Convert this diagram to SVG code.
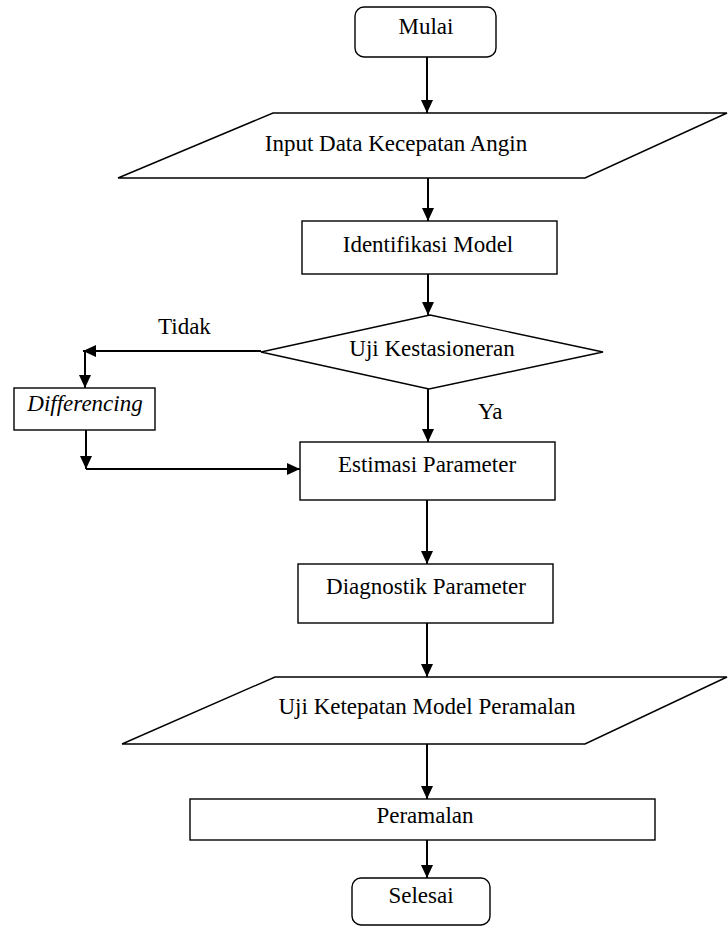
<svg xmlns="http://www.w3.org/2000/svg" width="728" height="927" viewBox="0 0 728 927">
<defs>
<marker id="ah" markerWidth="13" markerHeight="12" refX="13" refY="6" orient="auto" markerUnits="userSpaceOnUse">
<path d="M0,0 L13,6 L0,12 z" fill="#000"/>
</marker>
<style>
.shape{fill:#fff;stroke:#000;stroke-width:1.4}
.conn{fill:none;stroke:#000;stroke-width:2}
.lbl{font-family:"Liberation Serif","Times New Roman",serif;font-size:23px;fill:#000;text-anchor:middle}
.lab{font-family:"Liberation Serif","Times New Roman",serif;font-size:23px;fill:#000}
</style>
</defs>
<rect width="728" height="927" fill="#fff"/>
<g id="connectors">
<line class="conn" x1="427" y1="57" x2="427" y2="113" marker-end="url(#ah)"/>
<line class="conn" x1="428" y1="178" x2="428" y2="221" marker-end="url(#ah)"/>
<line class="conn" x1="428" y1="274" x2="428" y2="315" marker-end="url(#ah)"/>
<line class="conn" x1="428" y1="389" x2="428" y2="442" marker-end="url(#ah)"/>
<line class="conn" x1="261" y1="351" x2="83" y2="351" marker-end="url(#ah)"/>
<line class="conn" x1="85" y1="351" x2="85" y2="388" marker-end="url(#ah)"/>
<line class="conn" x1="86" y1="430" x2="86" y2="469" marker-end="url(#ah)"/>
<line class="conn" x1="86" y1="469" x2="300" y2="469" marker-end="url(#ah)"/>
<line class="conn" x1="427" y1="500" x2="427" y2="564" marker-end="url(#ah)"/>
<line class="conn" x1="427" y1="623" x2="427" y2="677" marker-end="url(#ah)"/>
<line class="conn" x1="427" y1="744" x2="427" y2="799" marker-end="url(#ah)"/>
<line class="conn" x1="427" y1="840" x2="427" y2="878" marker-end="url(#ah)"/>
<text class="lab" x="158" y="334">Tidak</text>
<text class="lab" x="478" y="419">Ya</text>
</g>
<g id="mulai">
<rect class="shape" x="355" y="7" width="141" height="50" rx="9"/>
<text class="lbl" x="426" y="34">Mulai</text>
</g>
<g id="input">
<polygon class="shape" points="273,113 727,113 585,178 118,178"/>
<text class="lbl" x="396" y="151">Input Data Kecepatan Angin</text>
</g>
<g id="identifikasi">
<rect class="shape" x="302" y="221" width="255" height="53"/>
<text class="lbl" x="428" y="252">Identifikasi Model</text>
</g>
<g id="uji-kestasioneran">
<polygon class="shape" points="430,315 603,352 429,389 261,352"/>
<text class="lbl" x="432" y="356">Uji Kestasioneran</text>
</g>
<g id="differencing">
<rect class="shape" x="14" y="388" width="141" height="42"/>
<text class="lbl" x="85" y="411" font-style="italic">Differencing</text>
</g>
<g id="estimasi">
<rect class="shape" x="300" y="442" width="255" height="58"/>
<text class="lbl" x="427" y="472">Estimasi Parameter</text>
</g>
<g id="diagnostik">
<rect class="shape" x="298" y="564" width="255" height="59"/>
<text class="lbl" x="426" y="594">Diagnostik Parameter</text>
</g>
<g id="uji-ketepatan">
<polygon class="shape" points="275,677 727,677 585,744 122,744"/>
<text class="lbl" x="427" y="714">Uji Ketepatan Model Peramalan</text>
</g>
<g id="peramalan">
<rect class="shape" x="190" y="799" width="465" height="41"/>
<text class="lbl" x="425" y="823">Peramalan</text>
</g>
<g id="selesai">
<rect class="shape" x="352" y="878" width="138" height="47" rx="9"/>
<text class="lbl" x="421" y="903">Selesai</text>
</g>
</svg>
